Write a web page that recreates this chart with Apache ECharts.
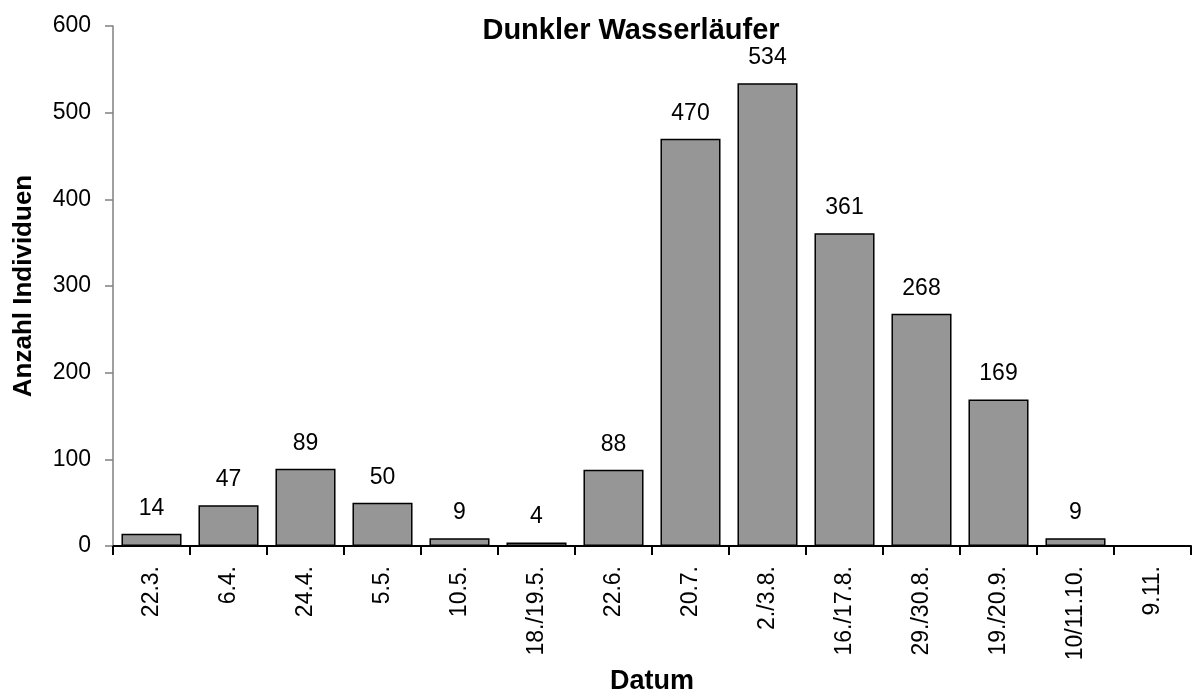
<!DOCTYPE html>
<html lang="de">
<head>
  <meta charset="UTF-8">
  <title>Dunkler Wasserläufer</title>
  <style>
    html, body { margin: 0; padding: 0; background: #fff; }
    #chart { width: 1192px; height: 691px; }
  </style>
</head>
<body>
  <div id="chart"></div>
  <script src="https://cdn.jsdelivr.net/npm/echarts@6/dist/echarts.min.js"></script>
  <script>
    // Daten
    var dates = ['22.3.', '6.4.', '24.4.', '5.5.', '10.5.', '18./19.5.', '22.6.',
                 '20.7.', '2./3.8.', '16./17.8.', '29./30.8.', '19./20.9.', '10/11.10.', '9.11.'];
    var counts = [14, 47, 89, 50, 9, 4, 88, 470, 534, 361, 268, 169, 9, null];
    var yTicks = [0, 100, 200, 300, 400, 500, 600];

    var font = 'Liberation Sans, Arial, sans-serif';
    var chart = echarts.init(document.getElementById('chart'));

    var option = {
      animation: false,
      title: {
        text: 'Dunkler Wasserläufer',
        left: 626,
        top: 11,
        textAlign: 'center',
        textStyle: { fontFamily: font, fontSize: 29, fontWeight: 'bold', color: '#000' }
      },
      grid: { left: 113, right: 1, top: 26, bottom: 145, containLabel: false, outerBoundsMode: 'none' },
      xAxis: {
        type: 'category',
        data: dates,
        name: 'Datum',
        nameLocation: 'middle',
        nameGap: 121,
        nameTextStyle: { fontFamily: font, fontSize: 27, fontWeight: 'bold', color: '#000' },
        axisLine: { show: true, lineStyle: { color: '#000', width: 2 } },
        axisTick: { show: true, length: 9, lineStyle: { color: '#000', width: 2 } },
        axisLabel: { rotate: 90, margin: 20, interval: 0, fontFamily: font, fontSize: 23, color: '#000' }
      },
      yAxis: {
        type: 'value',
        min: yTicks[0],
        max: yTicks[yTicks.length - 1],
        interval: 100,
        name: 'Anzahl Individuen',
        nameLocation: 'middle',
        nameGap: 76,
        nameTextStyle: { fontFamily: font, fontSize: 26, fontWeight: 'bold', color: '#000' },
        axisLine: { show: true, lineStyle: { color: '#808080', width: 1.5 } },
        axisTick: { show: true, length: 8, lineStyle: { color: '#808080', width: 1.5 } },
        axisLabel: { margin: 22, fontFamily: font, fontSize: 23, color: '#000' },
        splitLine: { show: false }
      },
      series: [{
        type: 'bar',
        data: counts,
        barWidth: '78%',
        itemStyle: { color: '#969696', borderColor: '#000', borderWidth: 1.5 },
        label: {
          show: true,
          position: 'top',
          distance: 14,
          fontFamily: font,
          fontSize: 23,
          color: '#000'
        }
      }]
    };

    chart.setOption(option);
  </script>
</body>
</html>
